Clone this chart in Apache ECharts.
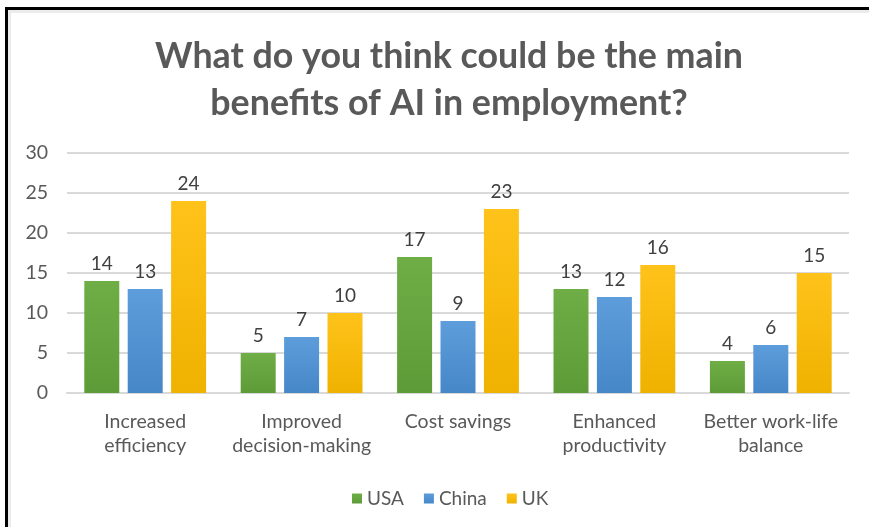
<!DOCTYPE html>
<html>
<head>
<meta charset="utf-8">
<script src="https://cdn.jsdelivr.net/npm/echarts@6/dist/echarts.min.js"></script>
<style>
  html, body { margin: 0; padding: 0; background: #fff; }
  #chart { width: 869px; height: 527px; }
</style>
</head>
<body>
<div id="chart"></div>
<script>
// Survey answers: main benefits of AI in employment, by country
const categories = [
  'Increased\nefficiency',
  'Improved\ndecision-making',
  'Cost savings',
  'Enhanced\nproductivity',
  'Better work-life\nbalance'
];
const usa = [14, 5, 17, 13, 4];
const china = [13, 7, 9, 12, 6];
const uk = [24, 10, 23, 16, 15];
const yTicks = { min: 0, max: 30, interval: 5 };

const FONT = 'Lato, "Open Sans", sans-serif';

function grad(top, bottom) {
  return new echarts.graphic.LinearGradient(0, 0, 0, 1, [
    { offset: 0, color: top },
    { offset: 1, color: bottom }
  ]);
}

function barSeries(name, data, top, bottom) {
  return {
    name: name,
    type: 'bar',
    data: data,
    barWidth: 35,
    barGap: '24%',
    itemStyle: { color: grad(top, bottom) },
    label: {
      show: true,
      position: 'top',
      distance: 8,
      color: '#404040',
      fontSize: 19,
      fontFamily: FONT
    }
  };
}

const chart = echarts.init(document.getElementById('chart'), null, { renderer: 'canvas' });
chart.setOption({
  backgroundColor: '#ffffff',
  animation: false,
  title: {
    text: 'What do you think could be the main\nbenefits of AI in employment?',
    left: 444,
    top: 28,
    textAlign: 'center',
    textStyle: {
      color: '#595959',
      fontSize: 35.8,
      fontWeight: 'bold',
      fontFamily: FONT,
      lineHeight: 47
    }
  },
  legend: {
    data: ['USA', 'China', 'UK'],
    left: 347,
    top: 484,
    itemWidth: 10,
    itemHeight: 10,
    itemGap: 20,
    icon: 'rect',
    textStyle: { color: '#595959', fontSize: 19, fontFamily: FONT }
  },
  grid: { left: 67, right: 20, top: 153, bottom: 134 },
  xAxis: {
    type: 'category',
    data: categories,
    axisLine: { lineStyle: { color: '#d9d9d9', width: 2 } },
    axisTick: { show: false },
    axisLabel: {
      color: '#595959',
      fontSize: 19.5,
      fontFamily: FONT,
      lineHeight: 24,
      margin: 17,
      interval: 0
    }
  },
  yAxis: {
    type: 'value',
    min: yTicks.min,
    max: yTicks.max,
    interval: yTicks.interval,
    axisLine: { show: false },
    axisTick: { show: false },
    splitLine: { lineStyle: { color: '#d9d9d9', width: 2 } },
    axisLabel: { color: '#595959', fontSize: 19.5, fontFamily: FONT, margin: 19 }
  },
  series: [
    barSeries('USA', usa, '#6fae46', '#5c9b37'),
    barSeries('China', china, '#5d9ddb', '#4687c8'),
    barSeries('UK', uk, '#ffc21a', '#efb200')
  ],
  graphic: [
    { type: 'rect', shape: { x: 5, y: 7, width: 864, height: 3 }, style: { fill: '#000' }, z: 100 },
    { type: 'rect', shape: { x: 5, y: 7, width: 3, height: 520 }, style: { fill: '#000' }, z: 100 },
    { type: 'rect', shape: { x: 8, y: 10, width: 861, height: 3 }, style: { fill: '#ececec' }, z: 99 },
    { type: 'rect', shape: { x: 8, y: 10, width: 3, height: 517 }, style: { fill: '#ececec' }, z: 99 }
  ]
});
</script>
</body>
</html>
